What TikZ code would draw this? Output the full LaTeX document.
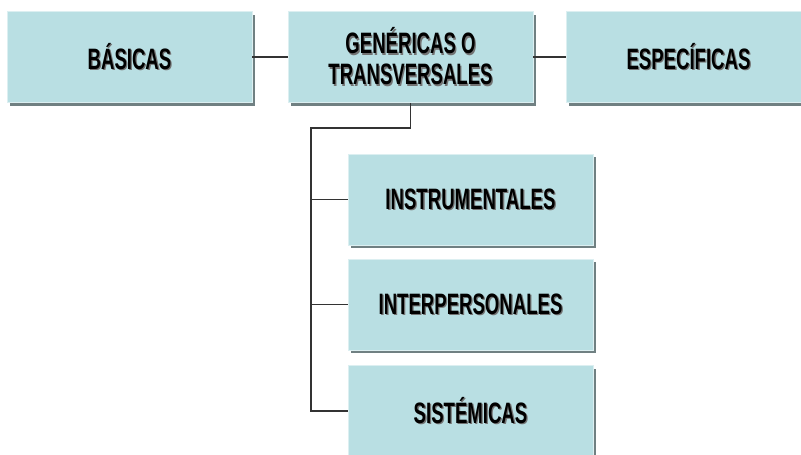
\documentclass[tikz,border=0pt]{standalone}
\usepackage{fontspec}
\setmainfont{Liberation Sans}[FakeStretch=0.63]
\usetikzlibrary{shadows}
\definecolor{boxblue}{RGB}{185,223,227}
\definecolor{boxshade}{RGB}{112,128,130}
\newcommand{\shtxt}[1]{\leavevmode\rlap{\kern1.3pt\raisebox{-1.3pt}{\textcolor{black!55}{#1}}}#1}
\begin{document}
\begin{tikzpicture}[
    x=1pt, y=-1pt,
    cbox/.style={fill=boxblue, draw=white!50!boxblue, line width=0.8pt,
                 minimum width=245pt, minimum height=91pt, align=center,
                 inner sep=0pt,
                 font=\fontsize{29.5}{31}\selectfont\bfseries,
                 drop shadow={shadow xshift=3pt, shadow yshift=-3pt,
                              fill=boxshade, opacity=1}},
    link/.style={draw=black!80, line width=1.6pt}
  ]
  \useasboundingbox (0,0) rectangle (801,455);
  % top row
  \node[cbox] (basicas) at (129.5,57) {\shtxt{BÁSICAS}};
  \node[cbox] (genericas) at (410.5,57) {\shtxt{GENÉRICAS O}\\\shtxt{TRANSVERSALES}};
  \node[cbox] (especificas) at (688.5,57) {\shtxt{ESPECÍFICAS}};
  % lower column
  \node[cbox] (instrumentales) at (470.5,199.5) {\shtxt{INSTRUMENTALES}};
  \node[cbox] (interpersonales) at (470.5,304.5) {\shtxt{INTERPERSONALES}};
  \node[cbox] (sistemicas) at (470.5,411) {\shtxt{SISTÉMICAS}};
  % connectors
  \draw[link] (basicas) -- (genericas);
  \draw[link] (genericas) -- (especificas);
  \coordinate (spine) at (311,128);
  \draw[link] (genericas.south) |- (spine) |- (sistemicas.west);
  \draw[link] (spine |- instrumentales.west) -- (instrumentales.west);
  \draw[link] (spine |- interpersonales.west) -- (interpersonales.west);
\end{tikzpicture}
\end{document}
